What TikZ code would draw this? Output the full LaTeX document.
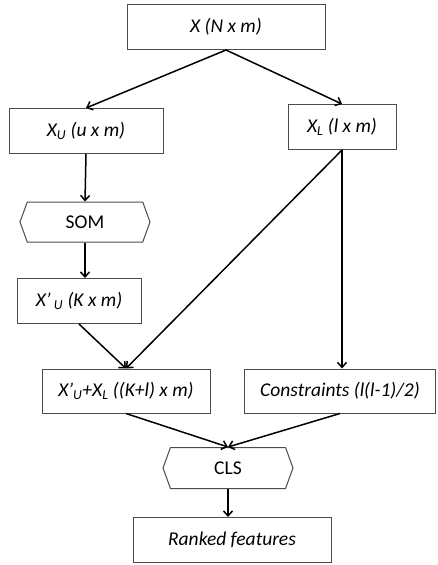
\documentclass[tikz,border=0pt]{standalone}
\usepackage{fontspec}
\setmainfont{Carlito}
\usetikzlibrary{arrows.meta,shapes.symbols}

\begin{document}
\begin{tikzpicture}[x=1pt, y=-1pt]
        \tikzstyle{box}=[rectangle,draw=black!70,line width=1pt,inner sep=0pt,minimum height=45pt,font=\fontsize{19.5}{22}\selectfont\itshape]
        \tikzstyle{proc}=[signal,signal to=west and east,signal pointer angle=140,draw=black!70,line width=1pt,inner sep=0pt,minimum height=40pt,font=\fontsize{19.5}{22}\selectfont]
        \tikzstyle{arr}=[-{Straight Barb[length=5pt,width=9pt]},line width=1.5pt]

        \useasboundingbox (0,0) rectangle (437,565);

        \node[box,minimum width=198pt] (X) at (226,27)  {X (N x m)};
        \node[box,minimum width=154pt] (X_U) at (86,131)  {X\textsubscript{U} (u x m)};
        \node[box,minimum width=108pt] (X_L) at (342,127)  {X\textsubscript{L} (l x m)};
        \node[proc,minimum width=130pt] (SOM) at (85,222)  {SOM};
        \node[box,minimum width=124pt] (X_S) at (79,301)  {X’\,\textsubscript{U} (K x m)};
        \node[box,minimum width=168pt,minimum height=44pt] (X_M) at (126,391)  {X’\textsubscript{U}+X\textsubscript{L} ((K+l) x m)};
        \node[box,minimum width=191pt,minimum height=44pt] (C) at (340,391)  {Constraints (l(l-1)/2)};
        \node[proc,minimum width=130pt,minimum height=41pt] (CLS) at (228,468)  {CLS};
        \node[box,minimum width=198pt] (R) at (232,540)  {Ranked features};

        \draw[arr] (X.south) -- (X_U.north);
        \draw[arr] (X.south) -- (X_L.north);
        \draw[arr] (X_U.south) -- (SOM.north);
        \draw[arr] (SOM.south) -- (SOM.south |- X_S.north);
        \draw[arr] (X_S.south) -- (X_M.north);
        \draw[arr] (X_L.south) -- (X_M.north);
        \draw[arr] (X_L.south) -- (X_L.south |- C.north);
        \draw[arr] (X_M.south) -- (CLS.north);
        \draw[arr] (C.south) -- (CLS.north);
        \draw[arr] (CLS.south) -- (CLS.south |- R.north);
    \end{tikzpicture}
\end{document}
